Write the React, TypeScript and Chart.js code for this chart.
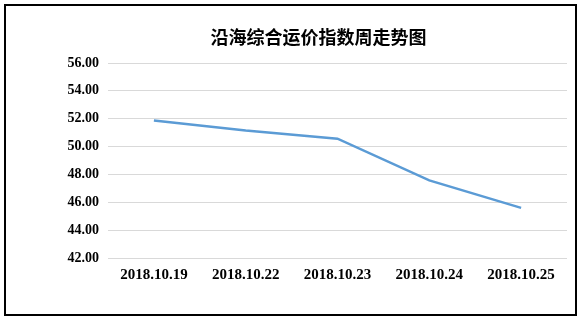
import React, { useEffect, useRef } from "react";
import { Chart, registerables } from "chart.js";

Chart.register(...registerables);

const categories = ["2018.10.19", "2018.10.22", "2018.10.23", "2018.10.24", "2018.10.25"];
const indexValues = [51.88, 51.15, 50.57, 47.57, 45.6];
const yMin = 42;
const yMax = 56;
const yStep = 2;
const titleText = "沿海综合运价指数周走势图";

const titleShift = {
  id: "titleShift",
  afterLayout(chart: any) {
    const t = chart.titleBlock;
    if (t) {
      t.left += 5;
      t.right += 5;
    }
  },
};

export default function App() {
  const ref = useRef<HTMLCanvasElement | null>(null);

  useEffect(() => {
    if (!ref.current) return;
    const chart = new Chart(ref.current, {
      type: "line",
      data: {
        labels: categories,
        datasets: [
          {
            data: indexValues,
            borderColor: "#5b9bd5",
            borderWidth: 2.5,
            pointRadius: 0,
            pointHoverRadius: 0,
            tension: 0,
            fill: false,
          },
        ],
      },
      plugins: [titleShift],
      options: {
        animation: false,
        responsive: false,
        maintainAspectRatio: false,
        layout: { padding: { left: 54, right: 8, top: 0, bottom: 0 } },
        plugins: {
          legend: { display: false },
          tooltip: { enabled: false },
          title: {
            display: true,
            text: titleText,
            color: "#000000",
            font: { family: "'Noto Sans CJK SC', sans-serif", size: 18, weight: "bold", lineHeight: 1.2 },
            padding: { top: 20, bottom: 15.4 },
          },
        },
        scales: {
          x: {
            offset: true,
            grid: { display: false, drawTicks: false, offset: true },
            border: { display: false },
            ticks: {
              color: "#000000",
              padding: 8,
              maxRotation: 0,
              autoSkip: false,
              font: { family: "'Liberation Serif', serif", size: 15, weight: "bold" },
            },
            afterFit: (s: any) => {
              s.height = 56;
              s.paddingLeft = 0;
              s.paddingRight = 0;
            },
          },
          y: {
            min: yMin,
            max: yMax,
            grid: { color: "#d9d9d9", lineWidth: 1, drawTicks: false },
            border: { display: false },
            ticks: {
              stepSize: yStep,
              color: "#000000",
              padding: 9,
              font: { family: "'Liberation Serif', serif", size: 14, weight: "bold" },
              callback: (v: any) => Number(v).toFixed(2),
            },
            afterFit: (s: any) => {
              s.width = 48;
            },
          },
        },
      },
    });
    return () => chart.destroy();
  }, []);

  return (
    <div
      style={{
        position: "fixed",
        left: 4,
        top: 4,
        width: 573,
        height: 312,
        border: "2px solid #000",
        boxSizing: "border-box",
        background: "#fff",
      }}
    >
      <canvas ref={ref} width={569} height={308} style={{ display: "block" }} />
    </div>
  );
}
